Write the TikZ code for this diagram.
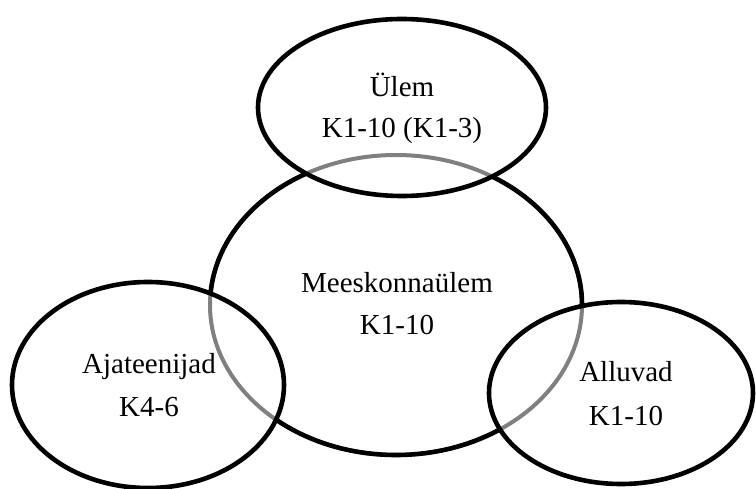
\documentclass[tikz,border=0pt]{standalone}
\usepackage{fontspec}
\setmainfont{Liberation Serif}
\usetikzlibrary{shapes.geometric}
\begin{document}
\begin{tikzpicture}[x=1pt,y=1pt,
  ring/.style={line width=4.6pt, draw=black},
  softring/.style={line width=4pt, draw=black!50},
  lbl/.style={anchor=base, inner sep=0pt, font=\fontsize{29}{35}\selectfont}]
\useasboundingbox (0,0) rectangle (756,488);
% centres of the four groups
\coordinate (cTop) at (402,380.5);
\coordinate (cMid) at (396,183);
\coordinate (cLeft) at (148,103);
\coordinate (cRight) at (621,95);
% central group: grey where it lies inside another group, black elsewhere
\draw[softring] (cMid) ellipse [x radius=186, y radius=150];
\begin{scope}[even odd rule]
  \clip (-10,-10) rectangle (766,498)
    (cTop) ellipse [x radius=144, y radius=88.5]
    (cLeft) ellipse [x radius=136, y radius=103]
    (cRight) ellipse [x radius=132, y radius=91];
  \draw[ring] (cMid) ellipse [x radius=186, y radius=150];
\end{scope}
% outer groups
\draw[ring] (cTop) ellipse [x radius=144, y radius=88.5];
\draw[ring] (cLeft) ellipse [x radius=136, y radius=103];
\draw[ring] (cRight) ellipse [x radius=132, y radius=91];
% labels
\node[lbl] (topA) at (402,391) {Ülem};
\node[lbl] (topB) at (402,350) {K1-10 (K1-3)};
\node[lbl] (midA) at (397,195) {Meeskonnaülem};
\node[lbl] (midB) at (397,153) {K1-10};
\node[lbl] (leftA) at (149,114) {Ajateenijad};
\node[lbl] (leftB) at (149,71) {K4-6};
\node[lbl] (rightA) at (626,106) {Alluvad};
\node[lbl] (rightB) at (626,63) {K1-10};
\end{tikzpicture}
\end{document}
